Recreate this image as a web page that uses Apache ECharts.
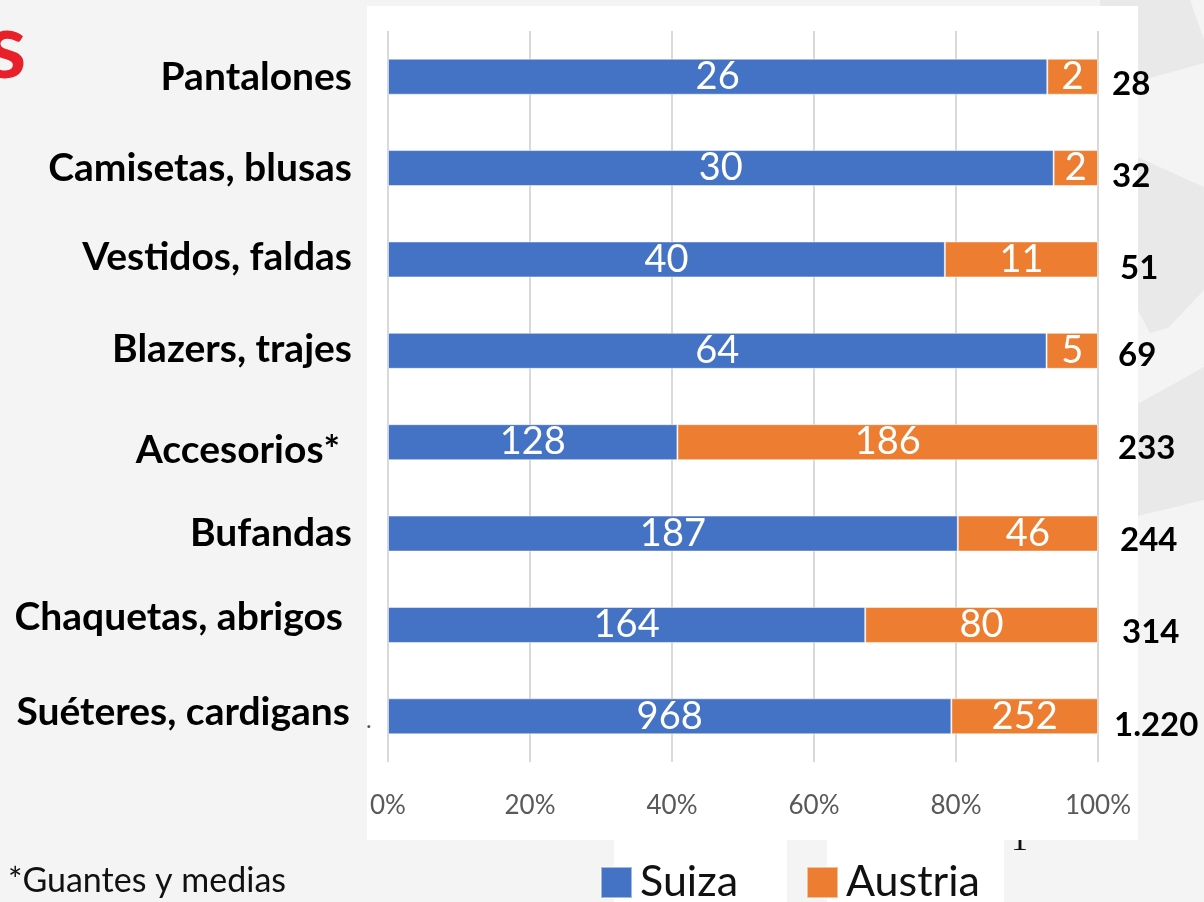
<!DOCTYPE html>
<html>
<head>
<meta charset="utf-8">
<script src="https://cdn.jsdelivr.net/npm/echarts@6/dist/echarts.min.js"></script>
<style>
  html, body { margin: 0; padding: 0; background: #f4f4f4; }
  #chart { width: 1204px; height: 902px; }
</style>
</head>
<body>
<div id="chart"></div>
<script>
// datos
const categories = ['Pantalones', 'Camisetas, blusas', 'Vestidos, faldas', 'Blazers, trajes',
  'Accesorios*', 'Bufandas', 'Chaquetas, abrigos', 'Suéteres, cardigans']
const suiza = [26, 30, 40, 64, 128, 187, 164, 968]
const austria = [2, 2, 11, 5, 186, 46, 80, 252]
const totals = ['28', '32', '51', '69', '233', '244', '314', '1.220']
const tickLabels = ['0%', '20%', '40%', '60%', '80%', '100%']

// porcentaje de cada país dentro de su categoría
const suizaPct = suiza.map((v, i) => v / (v + austria[i]) * 100)
const austriaPct = austria.map((v, i) => v / (suiza[i] + v) * 100)

// ajustes finos de posición de las etiquetas (dy, dx)
const catShift = [[1, 0], [0, 0], [-2, 0], [-1, 0], [8, 12], [0, 0], [-8, 9], [-4, 2]]
const totShift = [[8, 0], [8, 0], [9, 8], [5, 6], [6, 6], [7, 8], [7, 10], [9, 2]]

const FONT = 'Lato'

const shiftPad = (dy, dx, side) => {
  const top = dy > 0 ? dy * 2 : 0
  const bottom = dy < 0 ? -dy * 2 : 0
  return side === 'right' ? [top, dx, bottom, 0] : [top, 0, bottom, dx]
}

const catRich = {}
catShift.forEach(([dy, dx], i) => {
  catRich['c' + i] = { fontSize: 39, fontWeight: 'bold', color: '#000', fontFamily: FONT, padding: shiftPad(dy, dx, 'right') }
})
const totRich = {}
totShift.forEach(([dy, dx], i) => {
  totRich['t' + i] = { fontSize: 33, fontWeight: 'bold', color: '#000', fontFamily: FONT, padding: shiftPad(dy, dx, 'left') }
})

const chart = echarts.init(document.getElementById('chart'))

chart.setOption({
  backgroundColor: '#f4f4f4',
  textStyle: { fontFamily: FONT },
  animation: false,
  graphic: [
    // formas del fondo
    { type: 'polygon', z: -20, shape: { points: [[1100, 0], [1190, 0], [1204, 40], [1204, 63], [1100, 92]] }, style: { fill: '#e9e9e9' } },
    { type: 'polygon', z: -20, shape: { points: [[1100, 140], [1204, 187], [1204, 290], [1168, 328], [1150, 333], [1138, 310], [1100, 300]] }, style: { fill: '#e9e9e9' } },
    { type: 'polygon', z: -20, shape: { points: [[1100, 425], [1204, 367], [1204, 500], [1100, 525]] }, style: { fill: '#e9e9e9' } },
    { type: 'text', z: -15, left: 1011, top: 824, style: { text: '1', fill: '#111', font: '34px "Liberation Serif"' } },
    // panel blanco
    { type: 'rect', z: -10, shape: { x: 367, y: 6, width: 771, height: 834 }, style: { fill: '#ffffff' } },
    { type: 'rect', z: -10, shape: { x: 614, y: 840, width: 173, height: 62 }, style: { fill: '#ffffff' } },
    { type: 'rect', z: -10, shape: { x: 827, y: 840, width: 177, height: 62 }, style: { fill: '#ffffff' } },
    // título cortado
    { type: 'text', left: -14, top: 2, style: { text: 's', fill: '#e8202a', font: 'bold 92px Lato' } },
    { type: 'text', left: 366, top: 708, style: { text: '.', fill: '#595959', font: '24px Lato' } },
    // nota
    { type: 'text', left: 8, top: 864, style: { text: '*Guantes y medias', fill: '#111111', font: '34px Lato' } }
  ],
  legend: {
    data: ['Suiza', 'Austria'],
    left: 595,
    top: 856,
    itemWidth: 31,
    itemHeight: 31,
    itemGap: 68,
    icon: 'rect',
    textStyle: { fontFamily: FONT, fontSize: 43, color: '#111111', padding: [0, 0, 0, 3] }
  },
  grid: { left: 388, right: 106, top: 31, bottom: 140, containLabel: false },
  xAxis: {
    type: 'value',
    min: 0,
    max: 100,
    interval: 20,
    axisLine: { show: false },
    axisTick: { show: false },
    splitLine: { lineStyle: { color: '#d9d9d9', width: 2 } },
    axisLabel: {
      margin: 31,
      fontSize: 26,
      color: '#595959',
      fontFamily: FONT,
      formatter: (v) => tickLabels[v / 20]
    }
  },
  yAxis: [
    {
      type: 'category',
      data: categories,
      inverse: true,
      axisLine: { show: false },
      axisTick: { show: false },
      axisLabel: {
        margin: 36,
        formatter: (v, i) => `{c${i}|${v}}`,
        rich: catRich
      }
    },
    {
      type: 'category',
      data: totals,
      inverse: true,
      position: 'right',
      axisLine: { show: false },
      axisTick: { show: false },
      axisLabel: {
        margin: 14,
        align: 'left',
        formatter: (v, i) => `{t${i}|${v}}`,
        rich: totRich
      }
    }
  ],
  series: [
    {
      name: 'Suiza',
      type: 'bar',
      stack: 'total',
      barWidth: 36,
      data: suizaPct,
      itemStyle: { color: '#4472c4', borderColor: 'rgba(255,255,255,0.5)', borderWidth: 1 },
      label: {
        show: true,
        position: 'inside',
        color: '#fff',
        fontSize: 38,
        fontFamily: FONT,
        formatter: (p) => suiza[p.dataIndex]
      }
    },
    {
      name: 'Austria',
      type: 'bar',
      stack: 'total',
      barWidth: 36,
      data: austriaPct,
      itemStyle: { color: '#ed7d31', borderColor: 'rgba(255,255,255,0.5)', borderWidth: 1 },
      label: {
        show: true,
        position: 'inside',
        color: '#fff',
        fontSize: 38,
        fontFamily: FONT,
        formatter: (p) => austria[p.dataIndex]
      }
    }
  ]
})
</script>
</body>
</html>
